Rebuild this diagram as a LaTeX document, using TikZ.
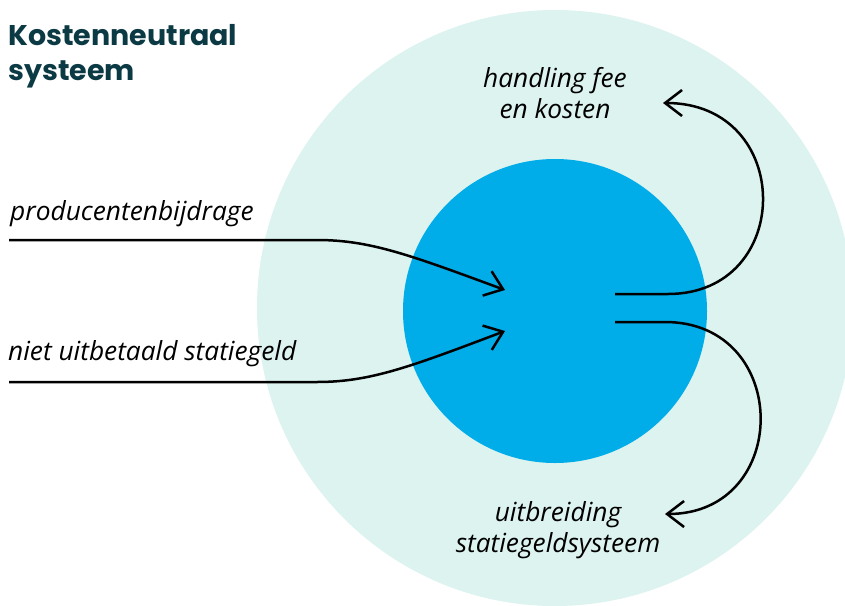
\documentclass[tikz,border=0pt]{standalone}
\usepackage{fontspec}
\setmainfont{Open Sans}
\newfontfamily\titlefont{Poppins}
\usetikzlibrary{arrows.meta}
\definecolor{mint}{HTML}{DCF3EF}
\definecolor{corecol}{HTML}{00ADE9}
\definecolor{titlecol}{HTML}{0B3A44}
\tikzset{
  flow/.style={line width=2.5pt, black, -{Straight Barb[length=17pt,width=26pt,line width=2.5pt]}},
  lbl/.style={font=\fontsize{26.3}{31}\selectfont\itshape, inner sep=0pt, align=center},
}
\begin{document}
\begin{tikzpicture}[x=1pt,y=-1pt]
\useasboundingbox (0,0) rectangle (845,605);
\clip (0,0) rectangle (845,605);
\fill[mint] (555,308) circle (298);
\fill[corecol] (555,311) circle (152);
\node[anchor=base west, inner sep=0pt, text=titlecol, align=left,
      font=\fontsize{28.5}{35}\titlefont\bfseries] (title) at (8,80) {Kostenneutraal\\systeem};
\node[lbl, anchor=base west] (prod) at (10,220) {producentenbijdrage};
\node[lbl, anchor=base west] (niet) at (8,360) {niet uitbetaald statiegeld};
\node[lbl, anchor=base] (hand) at (555,118) {handling fee\\en kosten};
\node[lbl, anchor=base] (uitb) at (558,552) {uitbreiding\\statiegeldsysteem};
\coordinate (p0) at (9,240);
\coordinate (p1) at (317,240);
\coordinate (pt) at (505,290);
\coordinate (n0) at (9,382);
\coordinate (n1) at (317,382);
\coordinate (nt) at (505,331);
\coordinate (h0) at (615,294);
\coordinate (h1) at (668,294);
\coordinate (ht) at (663,103);
\coordinate (u0) at (615,322);
\coordinate (u1) at (665,322);
\coordinate (ut) at (665,514);
\draw[flow] (p0) -- (p1) .. controls (370,240) and (410,255) .. (pt);
\draw[flow] (n0) -- (n1) .. controls (370,382) and (410,367) .. (nt);
\draw[flow] (h0) -- (h1) .. controls (795,294) and (795,103) .. (ht);
\draw[flow] (u0) -- (u1) .. controls (792,322) and (792,514) .. (ut);
\end{tikzpicture}
\end{document}
